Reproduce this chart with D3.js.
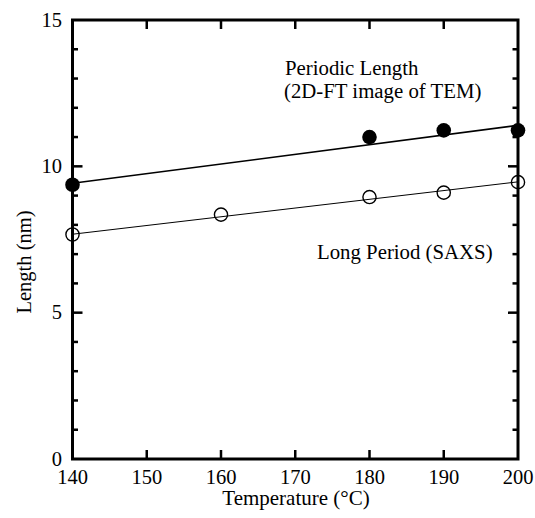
<!DOCTYPE html>
<html>
<head>
<meta charset="utf-8">
<script src="https://d3js.org/d3.v7.min.js"></script>
<style>
  body { margin: 0; background: #fff; }
  svg text { font-family: "Liberation Serif", "Times New Roman", serif; fill: #000; }
</style>
</head>
<body>
<svg id="chart" width="535" height="518"></svg>
<script>
// data
var temps = [140, 160, 180, 190, 200];
var tem = [9.37, null, 11.0, 11.23, 11.23];      // periodic length, 2D-FT of TEM (filled)
var saxs = [7.67, 8.35, 8.95, 9.1, 9.46];        // long period, SAXS (open)
var fitX = [140, 200];
var temFit = [9.42, 11.4];
var saxsFit = [7.68, 9.47];
var xTicks = [140, 150, 160, 170, 180, 190, 200];
var yTicks = [0, 5, 10, 15];

var svg = d3.select("#chart");
var plotL = 72.5, plotR = 518, plotT = 20, plotB = 459;

var x = d3.scaleLinear().domain([140, 200]).range([plotL, plotR]);
var y = d3.scaleLinear().domain([0, 15]).range([plotB, plotT]);

// frame
svg.append("rect")
    .attr("x", plotL).attr("y", plotT)
    .attr("width", plotR - plotL).attr("height", plotB - plotT)
    .attr("fill", "none").attr("stroke", "#000").attr("stroke-width", 3);

// x ticks, inward on bottom and top
var xt = svg.append("g").attr("stroke", "#000").attr("stroke-width", 2.5);
xTicks.slice(1, -1).forEach(function (t) {
  xt.append("line").attr("x1", x(t)).attr("x2", x(t)).attr("y1", plotB).attr("y2", plotB - 9);
  xt.append("line").attr("x1", x(t)).attr("x2", x(t)).attr("y1", plotT).attr("y2", plotT + 9);
});
svg.selectAll(".xlab").data(xTicks).enter().append("text")
    .attr("x", function (d) { return x(d); })
    .attr("y", 484)
    .attr("text-anchor", "middle")
    .attr("font-size", 20.5)
    .text(function (d) { return d; });

// y ticks, major every 5, minor every 1, both sides
var yt = svg.append("g").attr("stroke", "#000").attr("stroke-width", 2.5);
d3.range(1, 15).forEach(function (v) {
  var len = v % 5 === 0 ? 10 : 5.5;
  yt.append("line").attr("x1", plotL).attr("x2", plotL + len).attr("y1", y(v)).attr("y2", y(v));
  yt.append("line").attr("x1", plotR).attr("x2", plotR - len).attr("y1", y(v)).attr("y2", y(v));
});
svg.selectAll(".ylab").data(yTicks).enter().append("text")
    .attr("x", 62)
    .attr("y", function (d) { return y(d); })
    .attr("dy", "0.33em")
    .attr("text-anchor", "end")
    .attr("font-size", 20.5)
    .text(function (d) { return d; });

// axis titles
svg.append("text")
    .attr("x", 296).attr("y", 505)
    .attr("text-anchor", "middle").attr("font-size", 21)
    .text("Temperature (°C)");
svg.append("text")
    .attr("transform", "translate(31,262) rotate(-90)")
    .attr("text-anchor", "middle").attr("font-size", 20.5)
    .text("Length (nm)");

// fit lines
var line = d3.line()
    .x(function (d) { return x(d[0]); })
    .y(function (d) { return y(d[1]); });
svg.append("path")
    .attr("d", line(d3.zip(fitX, temFit)))
    .attr("fill", "none").attr("stroke", "#000").attr("stroke-width", 1.6);
svg.append("path")
    .attr("d", line(d3.zip(fitX, saxsFit)))
    .attr("fill", "none").attr("stroke", "#000").attr("stroke-width", 1);

// markers
svg.selectAll(".tem").data(d3.zip(temps, tem).filter(function (d) { return d[1] != null; }))
  .enter().append("circle")
    .attr("cx", function (d) { return x(d[0]); })
    .attr("cy", function (d) { return y(d[1]); })
    .attr("r", 7.3)
    .attr("fill", "#000");
svg.selectAll(".saxs").data(d3.zip(temps, saxs))
  .enter().append("circle")
    .attr("cx", function (d) { return x(d[0]); })
    .attr("cy", function (d) { return y(d[1]); })
    .attr("r", 6.6)
    .attr("fill", "none")
    .attr("stroke", "#000")
    .attr("stroke-width", 1.4);

// annotations
svg.append("text").attr("x", 285).attr("y", 75).attr("font-size", 20.8).text("Periodic Length");
svg.append("text").attr("x", 284).attr("y", 98).attr("font-size", 20.8).text("(2D-FT image of TEM)");
svg.append("text").attr("x", 317).attr("y", 259).attr("font-size", 20.8).text("Long Period (SAXS)");
</script>
</body>
</html>
